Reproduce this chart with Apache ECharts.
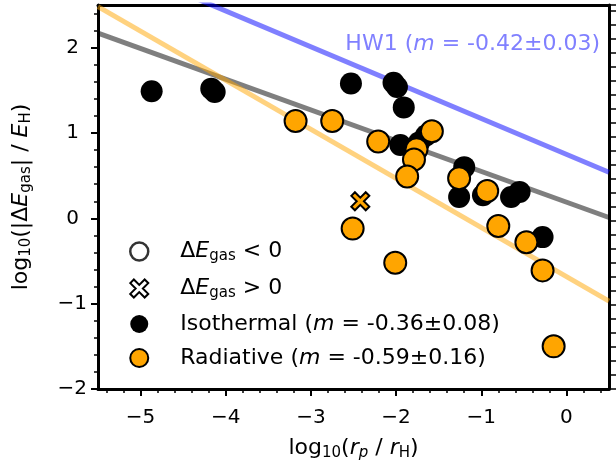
<!DOCTYPE html>
<html><head><meta charset="utf-8">
<script src="https://cdn.jsdelivr.net/npm/echarts@6/dist/echarts.min.js"></script>
<style>html,body{margin:0;padding:0;background:#fff}#c{width:616px;height:470px}</style>
</head><body><div id="c"></div>
<script>
// ---- data ----
const isoX = [-4.87, -4.17, -4.13, -2.53, -2.03, -1.99, -1.91, -1.95, -1.73, -1.65, -1.20, -1.26, -0.98, -0.65, -0.55, -0.28];
const isoY = [ 1.49,  1.52,  1.48,  1.58,  1.59,  1.54,  1.30,  0.86,  0.89,  0.97,  0.60,  0.25,  0.27,  0.25,  0.31, -0.22];
const radX = [-3.18, -2.75, -2.21, -1.58, -1.76, -1.79, -1.87, -1.26, -0.93, -0.80, -0.47, -0.28, -0.15, -2.51, -2.01];
const radY = [ 1.14,  1.14,  0.90,  1.02,  0.81,  0.69,  0.49,  0.47,  0.32, -0.09, -0.28, -0.61, -1.50, -0.12, -0.52];
const posX = [-2.42];
const posY = [0.20];
const hw1FitX = [-5.5, 0.5], hw1FitY = [3.06, 0.54];
const isoFitX = [-5.5, 0.5], isoFitY = [2.17, 0.01];
const radFitX = [-5.5, 0.5], radFitY = [2.48, -0.97];
const xMajorTicks = [-5, -4, -3, -2, -1, 0];
const xMinorTicks = [-5.4, -5.2, -4.8, -4.6, -4.4, -4.2, -3.8, -3.6, -3.4, -3.2, -2.8, -2.6, -2.4, -2.2, -1.8, -1.6, -1.4, -1.2, -0.8, -0.6, -0.4, -0.2, 0.2, 0.4];
const yMajorTicks = [-2, -1, 0, 1, 2];
const yMinorTicks = [-1.8, -1.6, -1.4, -1.2, -0.8, -0.6, -0.4, -0.2, 0.2, 0.4, 0.6, 0.8, 1.2, 1.4, 1.6, 1.8, 2.2, 2.4];
const legendNames = ['neg', 'pos', 'iso', 'rad'];
const legendLabels = {
  neg: '{a|Δ}{i|E}{s|gas}{a| < 0}',
  pos: '{a|Δ}{i|E}{s|gas}{a| > 0}',
  iso: '{a|Isothermal (}{i|m}{a| = -0.36±0.08)}',
  rad: '{a|Radiative (}{i|m}{a| = -0.59±0.16)}'
};
const hw1Label = '{a|HW1 (}{i|m}{a| = -0.42±0.03)}';
const xName = '{a|log}{s|10}{a|(}{i|r}{si|p}{a| / }{i|r}{s|H}{a|)}';
const yName = '{a|log}{s|10}{a|(|Δ}{i|E}{s|gas}{a|| / }{i|E}{s|H}{a|)}';

const FONT = 'DejaVu Sans';
const XMIN = -5.5, XMAX = 0.5, YMIN = -2, YMAX = 2.5;
const crossPath = 'path://M0,0.2 L0.2,0 L0.5,0.3 L0.8,0 L1,0.2 L0.7,0.5 L1,0.8 L0.8,1 L0.5,0.7 L0.2,1 L0,0.8 L0.3,0.5 Z';

function richSet(size, sub, pad, color) {
  color = color || '#000';
  return {
    a: {fontSize: size, fontFamily: FONT, fontWeight: 'normal', color: color, lineHeight: size + 4},
    i: {fontSize: size, fontFamily: FONT, fontWeight: 'normal', fontStyle: 'italic', color: color, lineHeight: size + 4},
    s: {fontSize: sub, fontFamily: FONT, fontWeight: 'normal', color: color, lineHeight: sub, padding: [pad, 0, 0, 0]},
    si: {fontSize: sub, fontFamily: FONT, fontWeight: 'normal', fontStyle: 'italic', color: color, lineHeight: sub, padding: [pad, 0, 0, 0]}
  };
}
const tickFmt = v => (v < 0 ? '\u2212' + Math.abs(v) : String(v));
const yTickFmt = v => (v < 0 ? '{t|\u2212' + Math.abs(v) + '}' : '{p|' + v + '}');
const pairs = (xs, ys) => xs.map((x, i) => [x, ys[i]]);
const spine = {show: true, onZero: false, lineStyle: {color: '#000', width: 3}};
const noLine = {show: false, onZero: false};

const chart = echarts.init(document.getElementById('c'), null, {renderer: 'canvas'});
chart.setOption({
  animation: false,
  backgroundColor: '#fff',
  grid: {left: 97, top: 5, right: 7, bottom: 81, containLabel: false},
  title: {
    text: hw1Label, right: 11, top: 26,
    textStyle: {fontWeight: 'normal', rich: richSet(22, 15, 11, '#8080ff')}
  },
  legend: {
    data: [
      {name: 'neg', icon: 'circle', itemStyle: {color: '#fff', borderColor: '#000', borderWidth: 2.5}},
      {name: 'pos', itemStyle: {color: '#fff', borderColor: '#000', borderWidth: 2}},
      {name: 'iso', itemStyle: {color: '#000', borderColor: '#000', borderWidth: 0}},
      {name: 'rad', itemStyle: {color: '#ffa500', borderColor: '#000', borderWidth: 2}}
    ],
    orient: 'vertical', left: 124, top: 234,
    itemWidth: 72, itemHeight: 18, itemGap: 12, selectedMode: false,
    itemStyle: {borderWidth: 2, borderColor: '#000'},
    formatter: n => legendLabels[n],
    textStyle: {rich: richSet(22, 15, 10)}
  },
  xAxis: [
    {type: 'value', position: 'bottom', min: XMIN, max: XMAX, axisLine: spine,
     axisTick: {show: true, customValues: xMajorTicks, length: 7, lineStyle: {width: 2, color: '#000'}},
     axisLabel: {customValues: xMajorTicks, formatter: tickFmt, fontSize: 20, fontFamily: FONT, color: '#000', margin: 19},
     splitLine: {show: false},
     name: xName, nameLocation: 'middle', nameGap: 46, nameTextStyle: {rich: richSet(22, 15, 11)}},
    {type: 'value', position: 'bottom', min: XMIN, max: XMAX, axisLine: noLine,
     axisTick: {show: true, customValues: xMinorTicks, length: 4, lineStyle: {width: 1.5, color: '#000'}},
     axisLabel: {show: false}, splitLine: {show: false}},
    {type: 'value', position: 'top', min: XMIN, max: XMAX, axisLine: spine,
     axisTick: {show: false}, axisLabel: {show: false}, splitLine: {show: false}}
  ],
  yAxis: [
    {type: 'value', position: 'left', min: YMIN, max: YMAX, axisLine: spine,
     axisTick: {show: true, customValues: yMajorTicks, length: 7, lineStyle: {width: 2, color: '#000'}},
     axisLabel: {customValues: yMajorTicks, formatter: yTickFmt, margin: 11,
       rich: {t: {fontSize: 20, fontFamily: FONT, color: '#000'},
              p: {fontSize: 20, fontFamily: FONT, color: '#000', padding: [0, 8, 0, 0]}}},
     splitLine: {show: false},
     name: yName, nameLocation: 'middle', nameGap: 64, nameTextStyle: {rich: richSet(22, 15, 11)}},
    {type: 'value', position: 'left', min: YMIN, max: YMAX, axisLine: noLine,
     axisTick: {show: true, customValues: yMinorTicks, length: 4, lineStyle: {width: 1.5, color: '#000'}},
     axisLabel: {show: false}, splitLine: {show: false}},
    {type: 'value', position: 'right', min: 0, max: 27.43, interval: 1, axisLine: spine,
     axisTick: {show: true, length: 8, lineStyle: {width: 1.5, color: '#000'}},
     axisLabel: {show: false}, splitLine: {show: false}}
  ],
  series: [
    {type: 'line', data: pairs(hw1FitX, hw1FitY), showSymbol: false, silent: true, z: 1,
     lineStyle: {color: 'rgba(0,0,255,0.5)', width: 5}},
    {type: 'line', data: pairs(isoFitX, isoFitY), showSymbol: false, silent: true, z: 1,
     lineStyle: {color: 'rgba(0,0,0,0.5)', width: 5}},
    {type: 'line', data: pairs(radFitX, radFitY), showSymbol: false, silent: true, z: 1,
     lineStyle: {color: 'rgba(255,165,0,0.5)', width: 5}},
    {name: 'neg', type: 'scatter', data: [], symbol: 'circle', symbolSize: 18,
     itemStyle: {color: '#fff', borderColor: '#000', borderWidth: 2.5}},
    {name: 'iso', type: 'scatter', data: pairs(isoX, isoY), symbol: 'circle', symbolSize: 22, z: 3,
     itemStyle: {color: '#000', opacity: 1}},
    {name: 'rad', type: 'scatter', data: pairs(radX, radY), symbol: 'circle', symbolSize: 22, z: 4,
     itemStyle: {color: '#ffa500', borderColor: '#000', borderWidth: 2, opacity: 1}},
    {name: 'pos', type: 'scatter', data: pairs(posX, posY), symbol: crossPath, symbolSize: 18, z: 5,
     itemStyle: {color: '#ffa500', borderColor: '#000', borderWidth: 2, opacity: 1}}
  ]
});
</script></body></html>
